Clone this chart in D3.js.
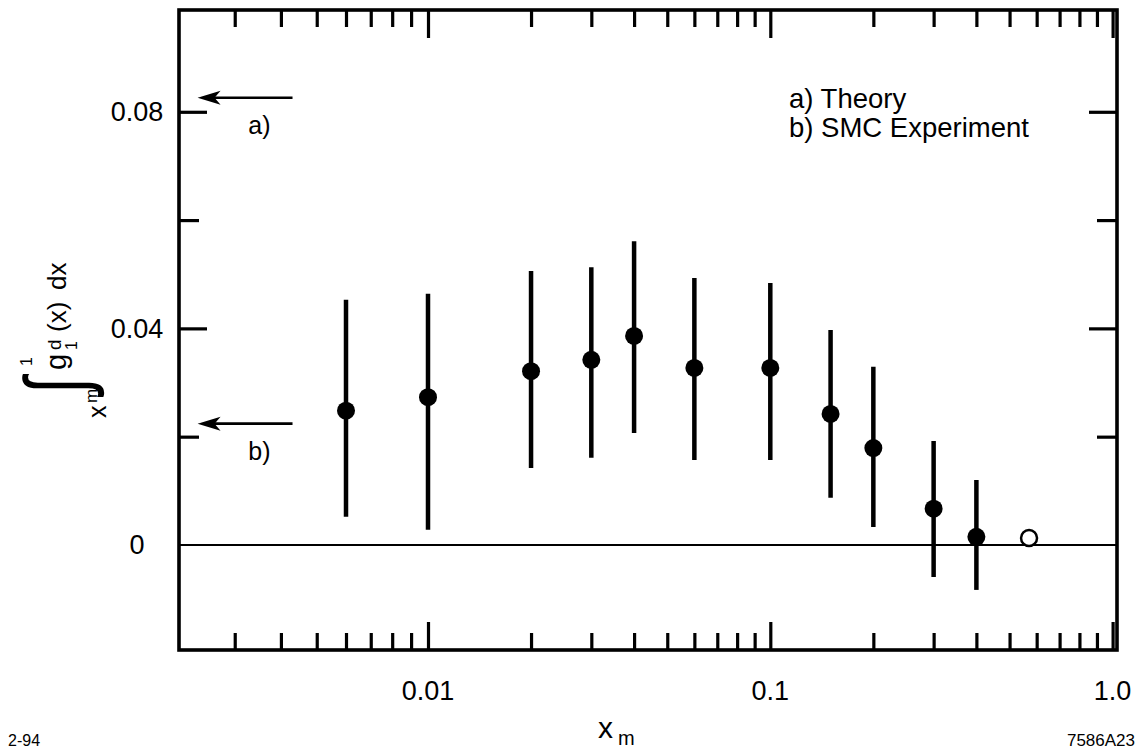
<!DOCTYPE html>
<html><head><meta charset="utf-8">
<script src="https://cdn.jsdelivr.net/npm/d3@7"></script>
<style>
body{margin:0;background:#fff}
svg{display:block}
text{font-family:"Liberation Sans",Arial,Helvetica,sans-serif;fill:#000}
</style>
</head><body>
<svg id="c" width="1139" height="750"></svg>
<script>
// ---- data ----
const xValues  = [0.006, 0.01, 0.02, 0.03, 0.04, 0.06, 0.1, 0.15, 0.2, 0.3, 0.4];
const yValues  = [0.0248, 0.0273, 0.0321, 0.0342, 0.0386, 0.0327, 0.0327, 0.0242, 0.0179, 0.0067, 0.0015];
const errLow   = [0.0052, 0.0028, 0.0142, 0.0161, 0.0207, 0.0157, 0.0157, 0.0087, 0.0033, -0.0059, -0.0083];
const errHigh  = [0.0453, 0.0464, 0.0506, 0.0513, 0.0561, 0.0493, 0.0484, 0.0397, 0.0329, 0.0192, 0.0120];
const openX = [0.57];
const openY = [0.0013];
const xMajorTicks = [0.01, 0.1, 1.0];
const xTickLabels = ["0.01", "0.1", "1.0"];
const xMinorTicks = [0.003, 0.004, 0.005, 0.006, 0.007, 0.008, 0.009,
                     0.02, 0.03, 0.04, 0.05, 0.06, 0.07, 0.08, 0.09,
                     0.2, 0.3, 0.4, 0.5, 0.6, 0.7, 0.8, 0.9];
const yMajorTicks = [0, 0.04, 0.08];
const yTickLabels = ["0", "0.04", "0.08"];
const yMinorTicks = [0.02, 0.06];
const arrowValues = [0.0826, 0.0224];
const arrowLabels = ["a)", "b)"];
const arrowXRange = [0.00238, 0.0043];
const arrowLabelX = 0.0035;
const legendLines = ["a) Theory", "b) SMC Experiment"];

// ---- layout ----
const L = 179, R = 1117, T = 10, B = 650;
const svg = d3.select("#c");
const x = d3.scaleLog().domain([0.00212, 0.01, 1.03]).range([L, 428, R]);
const y = d3.scaleLinear().domain([-0.0194, 0.0988]).range([B, T]);

function tickAxis(axis, tx, ty, vals, size) {
  const g = svg.append("g").attr("transform", `translate(${tx},${ty})`)
    .call(axis.tickValues(vals).tickSize(-size).tickFormat(""));
  g.select(".domain").remove();
  g.selectAll(".tick line").attr("stroke", "#000").attr("stroke-width", 3.2);
  g.selectAll(".tick text").remove();
}
const xMajorInside = xMajorTicks.filter(v => x(v) < R - 2);
tickAxis(d3.axisBottom(x), 0, B, xMinorTicks, 17);
tickAxis(d3.axisBottom(x), 0, B, xMajorInside, 28);
tickAxis(d3.axisTop(x), 0, T, xMinorTicks, 17);
tickAxis(d3.axisTop(x), 0, T, xMajorInside, 28);
tickAxis(d3.axisLeft(y), L, 0, yMinorTicks, 20);
tickAxis(d3.axisLeft(y), L, 0, yMajorTicks.filter(v => v !== 0), 28);
tickAxis(d3.axisRight(y), R, 0, yMinorTicks, 20);
tickAxis(d3.axisRight(y), R, 0, yMajorTicks.filter(v => v !== 0), 28);

// zero line
svg.append("line").attr("x1", L).attr("x2", R).attr("y1", y(0)).attr("y2", y(0))
  .attr("stroke", "#000").attr("stroke-width", 2);

// frame
svg.append("rect").attr("x", L).attr("y", T).attr("width", R - L).attr("height", B - T)
  .attr("fill", "none").attr("stroke", "#000").attr("stroke-width", 3.6);

// tick labels
svg.selectAll(".xl").data(xMajorTicks).enter().append("text")
  .attr("x", d => x(d)).attr("y", 700).attr("text-anchor", "middle")
  .attr("font-size", 27).text((d, i) => xTickLabels[i]);
svg.selectAll(".yl").data(yMajorTicks).enter().append("text")
  .attr("x", 137).attr("y", d => y(d) + 9.5).attr("text-anchor", "middle")
  .attr("font-size", 27).text((d, i) => yTickLabels[i]);

// error bars
const pts = xValues.map((v, i) => ({x: v, y: yValues[i], lo: errLow[i], hi: errHigh[i]}));
svg.selectAll(".eb").data(pts).enter().append("line")
  .attr("x1", d => x(d.x)).attr("x2", d => x(d.x))
  .attr("y1", d => y(d.lo)).attr("y2", d => y(d.hi))
  .attr("stroke", "#000").attr("stroke-width", 4.5);
svg.selectAll(".pt").data(pts).enter().append("circle")
  .attr("cx", d => x(d.x)).attr("cy", d => y(d.y)).attr("r", 9).attr("fill", "#000");
svg.selectAll(".op").data(openX).enter().append("circle")
  .attr("cx", d => x(d)).attr("cy", (d, i) => y(openY[i])).attr("r", 8)
  .attr("fill", "#fff").attr("stroke", "#000").attr("stroke-width", 2.5);

// arrows
arrowValues.forEach((v, i) => {
  const yy = y(v), tip = x(arrowXRange[0]), tail = x(arrowXRange[1]);
  svg.append("line").attr("x1", tip + 16).attr("x2", tail).attr("y1", yy).attr("y2", yy)
    .attr("stroke", "#000").attr("stroke-width", 2.6);
  svg.append("path")
    .attr("d", `M${tip},${yy} L${tip + 23},${yy - 7} L${tip + 17},${yy} L${tip + 23},${yy + 7} Z`)
    .attr("fill", "#000");
  svg.append("text").attr("x", x(arrowLabelX)).attr("y", yy + 36).attr("text-anchor", "middle")
    .attr("font-size", 25).text(arrowLabels[i]);
});

// legend
legendLines.forEach((s, i) => {
  svg.append("text").attr("x", 789).attr("y", 108 + i * 29).attr("font-size", 27.5).text(s);
});

// x-axis title
const xt = svg.append("text").attr("x", 598).attr("y", 738).attr("font-size", 30);
xt.append("tspan").text("x");
xt.append("tspan").attr("font-size", 20).attr("dx", 5).attr("dy", 7).text("m");

// corner notes
svg.append("text").attr("x", 8).attr("y", 746).attr("font-size", 16).text("2-94");
svg.append("text").attr("x", 1135).attr("y", 746).attr("text-anchor", "end").attr("font-size", 17).text("7586A23");

// y-axis title (rotated)
const yt = svg.append("g").attr("transform", "translate(66,392) rotate(-90)");
yt.append("text").attr("transform", "translate(-2,20) scale(1,1.4)").attr("font-size", 62).text("∫");
yt.append("text").attr("x", 26).attr("y", -34).attr("font-size", 16).text("1");
yt.append("text").attr("x", -26).attr("y", 40).attr("font-size", 25).text("x");
yt.append("text").attr("x", -11).attr("y", 31).attr("font-size", 17).text("m");
yt.append("text").attr("x", 22).attr("y", 0).attr("font-size", 29).text("g");
yt.append("text").attr("x", 42).attr("y", -5).attr("font-size", 19).text("d");
yt.append("text").attr("x", 42).attr("y", 11).attr("font-size", 16).text("1");
yt.append("text").attr("x", 60).attr("y", 0).attr("font-size", 26).text("(x)");
yt.append("text").attr("x", 102).attr("y", 0).attr("font-size", 26).text("dx");
</script>
</body></html>
